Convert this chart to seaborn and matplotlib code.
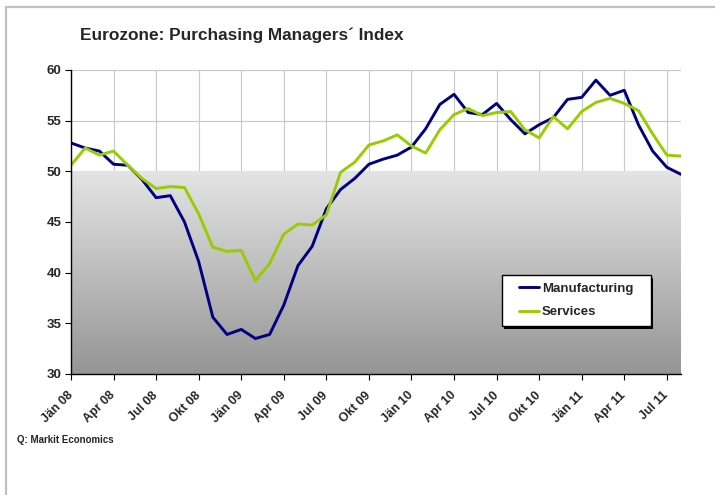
import numpy as np
import pandas as pd
import matplotlib
matplotlib.use("Agg")
import matplotlib.pyplot as plt
import seaborn as sns
from matplotlib.lines import Line2D
from matplotlib.patches import Rectangle

# ---- data ----
months = [f"{m} {y:02d}" for y in (8, 9, 10, 11)
          for m in ["Jän", "Feb", "Mär", "Apr", "Mai", "Jun", "Jul", "Aug", "Sep", "Okt", "Nov", "Dez"]][:44]
manufacturing = [52.8, 52.3, 52.0, 50.7, 50.6, 49.2, 47.4, 47.6, 45.0, 41.1, 35.6, 33.9,
                 34.4, 33.5, 33.9, 36.8, 40.7, 42.6, 46.3, 48.2, 49.3, 50.7, 51.2, 51.6,
                 52.4, 54.2, 56.6, 57.6, 55.8, 55.6, 56.7, 55.1, 53.7, 54.6, 55.3, 57.1,
                 57.3, 59.0, 57.5, 58.0, 54.6, 52.0, 50.4, 49.7]
services = [50.6, 52.3, 51.6, 52.0, 50.6, 49.3, 48.3, 48.5, 48.4, 45.8, 42.5, 42.1,
            42.2, 39.2, 40.9, 43.8, 44.8, 44.7, 45.7, 49.9, 50.9, 52.6, 53.0, 53.6,
            52.5, 51.8, 54.1, 55.6, 56.2, 55.5, 55.8, 55.9, 54.1, 53.3, 55.4, 54.2,
            55.9, 56.8, 57.2, 56.7, 56.0, 53.7, 51.6, 51.5]
tick_labels = ["Jän 08", "Apr 08", "Jul 08", "Okt 08", "Jän 09", "Apr 09", "Jul 09", "Okt 09",
               "Jän 10", "Apr 10", "Jul 10", "Okt 10", "Jän 11", "Apr 11", "Jul 11"]
yticks = [30, 35, 40, 45, 50, 55, 60]

idx = np.arange(len(months))
df = pd.DataFrame({
    "idx": np.concatenate([idx, idx]),
    "value": manufacturing + services,
    "series": ["Manufacturing"] * len(idx) + ["Services"] * len(idx),
})

sns.set_style("white")
plt.rcParams["font.family"] = ["Liberation Sans", "DejaVu Sans"]
plt.rcParams["font.weight"] = "bold"

fig = plt.figure(figsize=(7.15, 4.95), dpi=100)
ax = fig.add_axes([71 / 715, 1 - 374 / 495, 610 / 715, 304 / 495])

sns.lineplot(data=df, x="idx", y="value", hue="series",
             palette={"Manufacturing": "#000080", "Services": "#99CC00"},
             linewidth=2.1, ax=ax, legend=False, zorder=3)

# gradient area below 50
grad = np.linspace(0, 1, 256).reshape(-1, 1)
cmap = matplotlib.colors.LinearSegmentedColormap.from_list("g", ["#959595", "#e4e4e4"])
ax.imshow(grad, extent=(0, len(idx) - 1, 30, 50), origin="lower", aspect="auto",
          cmap=cmap, zorder=1, interpolation="bilinear")
ax.set_xlim(0, len(idx) - 1)
ax.set_ylim(30, 60)

ax.set_xticks(np.arange(0, len(idx), 3))
ax.set_xticklabels(tick_labels, rotation=45, ha="right", va="center",
                   rotation_mode="anchor", fontsize=9, fontweight="bold")
ax.set_yticks(yticks)
ax.set_yticklabels([str(v) for v in yticks], fontsize=9.5, fontweight="bold")
ax.tick_params(axis="both", direction="out", length=4, width=0.8, color="black",
               bottom=True, left=True)
ax.tick_params(axis="x", pad=10)
ax.tick_params(axis="y", pad=3)

ax.grid(True, color="#c8c8c8", linewidth=0.8, zorder=0)
ax.set_axisbelow(True)
for s in ["top", "right"]:
    ax.spines[s].set_visible(False)
for s in ["left", "bottom"]:
    ax.spines[s].set_color("black")
    ax.spines[s].set_linewidth(1.0)
    ax.spines[s].set_zorder(4)
ax.set_xlabel("")
ax.set_ylabel("")

# legend box with shadow (drawn in axes coordinates)
bx0, bx1 = (502 - 71) / 610, (651 - 71) / 610
by0, by1 = 1 - (326 - 70) / 304, 1 - (275 - 70) / 304
sx, sy = 2.5 / 610, 2.5 / 304
ax.add_patch(Rectangle((bx0 + sx, by0 - sy), bx1 - bx0, by1 - by0, transform=ax.transAxes,
                       facecolor="black", edgecolor="black", lw=0, zorder=5))
ax.add_patch(Rectangle((bx0, by0), bx1 - bx0, by1 - by0, transform=ax.transAxes,
                       facecolor="white", edgecolor="black", lw=1.0, zorder=6))

handles = [Line2D([0], [0], color="#000080", lw=2.1),
           Line2D([0], [0], color="#99CC00", lw=2.1)]
leg = ax.legend(handles, ["Manufacturing", "Services"], loc="center",
                bbox_to_anchor=((bx0 + bx1) / 2, (by0 + by1) / 2), fontsize=9.5,
                frameon=False, handlelength=1.47, handletextpad=0.25,
                labelspacing=0.85, borderpad=0.3, borderaxespad=0)
for t in leg.get_texts():
    t.set_fontweight("bold")
leg.set_zorder(7)

fig.text(80 / 715, 1 - 35.5 / 495, "Eurozone: Purchasing Managers\u00b4 Index",
         fontsize=12.4, fontweight="bold", ha="left", va="center")
fig.text(17 / 715, 1 - 440 / 495, "Q: Markit Economics", fontsize=7,
         fontweight="bold", ha="left", va="center")

# outer frame lines
fig.add_artist(Line2D([6 / 715, 1], [1 - 7 / 495, 1 - 7 / 495], color="#c0c0c0", lw=1.6,
                      transform=fig.transFigure))
fig.add_artist(Line2D([6 / 715, 6 / 715], [0, 1 - 7 / 495], color="#c0c0c0", lw=1.6,
                      transform=fig.transFigure))

fig.savefig("out.png", dpi=100)
